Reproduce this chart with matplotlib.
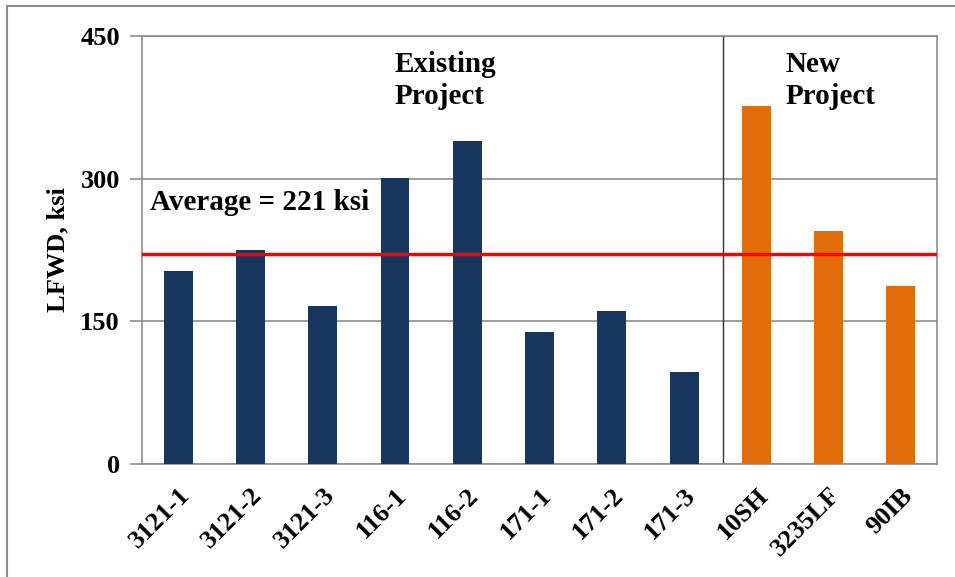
import matplotlib.pyplot as plt
from matplotlib.patches import Rectangle

sites = ["3121-1", "3121-2", "3121-3", "116-1", "116-2", "171-1", "171-2", "171-3",
         "10SH", "3235LF", "90IB"]
lfwd = [203, 225, 166, 301, 340, 139, 161, 97, 376, 245, 187]
is_new = [False] * 8 + [True] * 3
average = 221
yticks = [0, 150, 300, 450]

plt.rcParams['font.family'] = ['Liberation Serif', 'DejaVu Serif']
plt.rcParams['font.weight'] = 'bold'

fig = plt.figure(figsize=(9.55, 5.77), dpi=100)
ax = fig.add_axes([142 / 955, 1 - 464 / 577, 795 / 955, 428 / 577])

grey = '#8c8c8c'
colors = ['#e36c0a' if n else '#17375e' for n in is_new]
x = list(range(len(sites)))
ax.bar(x, lfwd, width=0.4, color=colors, zorder=3)

ax.set_xlim(-0.5, len(sites) - 0.5)
ax.set_ylim(0, 450)
ax.set_yticks(yticks)
ax.yaxis.grid(True, color=grey, linewidth=1.2, zorder=0)
ax.set_xticks(x)
ax.set_xticklabels(sites, rotation=45, ha='right', rotation_mode='anchor',
                   fontsize=19, fontweight='bold')
ax.tick_params(axis='x', length=0, pad=14)
ax.tick_params(axis='y', length=9, width=1.2, color=grey, labelsize=19, pad=7)
for s in ax.spines.values():
    s.set_color(grey)
    s.set_linewidth(1.2)

ax.axhline(average, color='#ff0000', linewidth=2.5, zorder=4)
ax.axvline(7.54, color='#303030', linewidth=1.0, zorder=2)

ax.text(-0.39, 275, "Average = %d ksi" % average, fontsize=21,
        fontweight='bold', va='center', ha='left')
ax.text(3.0, 434, "Existing\nProject", fontsize=21, fontweight='bold',
        va='top', ha='left', linespacing=1.25)
ax.text(8.41, 434, "New\nProject", fontsize=21, fontweight='bold',
        va='top', ha='left', linespacing=1.25)

ax.set_ylabel("LFWD, ksi", fontsize=19, fontweight='bold', labelpad=8)

fig.patches.append(Rectangle((7 / 955, -0.1), 1.2, 1 - 6 / 577 + 0.1,
                             transform=fig.transFigure, fill=False,
                             edgecolor=grey, linewidth=1.5, clip_on=False))

fig.savefig("out.png", dpi=100)
